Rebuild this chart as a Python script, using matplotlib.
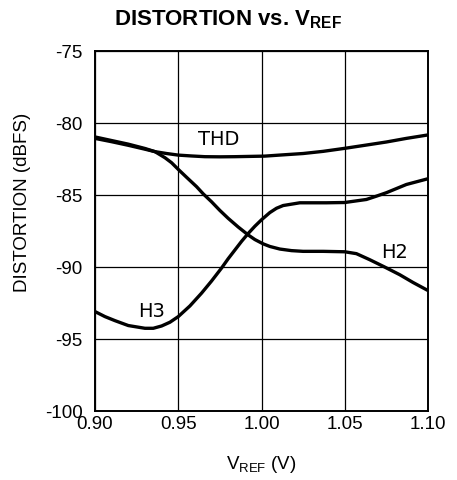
import matplotlib
matplotlib.use("Agg")
import matplotlib.pyplot as plt

plt.rcParams['font.family'] = ['Liberation Sans', 'DejaVu Sans']
plt.rcParams['mathtext.fontset'] = 'custom'
plt.rcParams['mathtext.rm'] = 'Liberation Sans'
plt.rcParams['mathtext.bf'] = 'Liberation Sans:bold'

# valores
vref_thd = [0.900, 0.910, 0.920, 0.930, 0.936, 0.943, 0.950, 0.958, 0.966, 0.975,
            0.984, 0.993, 1.002, 1.012, 1.025, 1.037, 1.050, 1.062, 1.075, 1.087, 1.100]
thd = [-81.1, -81.33, -81.58, -81.85, -82.02, -82.15, -82.26, -82.32, -82.37, -82.38,
       -82.37, -82.35, -82.33, -82.25, -82.15, -82.0, -81.79, -81.58, -81.35, -81.1, -80.86]

vref_h2 = [0.900, 0.910, 0.920, 0.930, 0.936, 0.942, 0.946, 0.950, 0.955, 0.961,
           0.965, 0.970, 0.975, 0.980, 0.986, 0.992, 0.996, 1.001, 1.005, 1.011,
           1.018, 1.025, 1.037, 1.050, 1.057, 1.065, 1.074, 1.083, 1.091, 1.100]
h2 = [-81.0, -81.25, -81.5, -81.8, -82.02, -82.44, -82.79, -83.25, -83.8, -84.45,
      -84.95, -85.5, -86.1, -86.65, -87.25, -87.8, -88.12, -88.42, -88.6, -88.78,
      -88.89, -88.94, -88.94, -88.97, -89.1, -89.52, -90.03, -90.56, -91.1, -91.66]

vref_h3 = [0.900, 0.906, 0.912, 0.920, 0.930, 0.935, 0.940, 0.945, 0.950, 0.957,
           0.964, 0.970, 0.976, 0.980, 0.984, 0.988, 0.992, 0.996, 1.000, 1.005,
           1.009, 1.013, 1.023, 1.039, 1.050, 1.063, 1.069, 1.075, 1.087, 1.100]
h3 = [-93.12, -93.47, -93.75, -94.09, -94.28, -94.28, -94.12, -93.86, -93.47, -92.73,
      -91.84, -91.0, -90.1, -89.45, -88.85, -88.25, -87.7, -87.2, -86.75, -86.25,
      -85.95, -85.76, -85.57, -85.57, -85.55, -85.34, -85.11, -84.87, -84.3, -83.9]

xticks = [0.90, 0.95, 1.00, 1.05, 1.10]
yticks = [-100, -95, -90, -85, -80, -75]

fig = plt.figure(figsize=(4.57, 4.81), dpi=100)
ax = fig.add_axes([95/457, 1-411.7/481, (428-95)/457, (411.7-51.5)/481])

for xs, ys in [(vref_thd, thd), (vref_h2, h2), (vref_h3, h3)]:
    ax.plot(xs, ys, color='black', lw=2.4, solid_capstyle='butt', solid_joinstyle='round')

ax.text(0.974, -81.1, 'THD', family='DejaVu Sans', fontsize=14, ha='center', va='center')
ax.text(0.934, -93.07, 'H3', family='DejaVu Sans', fontsize=14, ha='center', va='center')
ax.text(1.080, -88.94, 'H2', family='DejaVu Sans', fontsize=14, ha='center', va='center')

ax.set_xlim(0.90, 1.10)
ax.set_ylim(-100, -75)
ax.set_xticks(xticks)
ax.set_yticks(yticks)
ax.set_xticklabels([f'{v:.2f}' for v in xticks])
ax.set_yticklabels([str(v) for v in yticks])
ax.tick_params(axis='both', length=0, labelsize=13.5)
ax.tick_params(axis='x', pad=3)
ax.tick_params(axis='y', pad=9)
ax.grid(True, color='black', lw=0.9)
for s in ax.spines.values():
    s.set_linewidth(1.4)

fig.text(0.5, 1-8/481, r'DISTORTION vs. $\mathbf{V}_{\mathbf{REF}}$', fontsize=16,
         fontweight='bold', ha='center', va='top')
fig.text(261/457, 1-465/481, r'V$_{\mathrm{REF}}$ (V)', fontsize=13.5, ha='center', va='center')
fig.text(23/457, 1-202/481, 'DISTORTION (dBFS)', fontsize=13.5, rotation=90,
         ha='center', va='center')

fig.savefig('out.png', dpi=100)
